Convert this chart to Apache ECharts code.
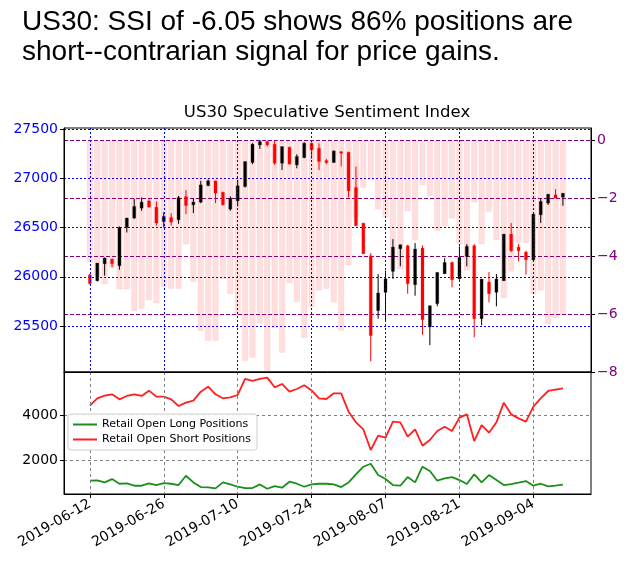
<!DOCTYPE html>
<html lang="en">
<head>
    <meta charset="UTF-8">
    <title>US30 SSI</title>
    <script src="https://cdn.jsdelivr.net/npm/echarts/dist/echarts.min.js"></script>
    <style>
        html, body { margin: 0; padding: 0; background: #fff; }
        #main { width: 629px; height: 566px; }
    </style>
</head>
<body>
    <div id="main"></div>
    <script type="text/javascript">
        // trading day index 0 = 2019-06-12
        const tickIdx = [0, 10, 20, 30, 40, 50, 60];
        const tickLabels = ['2019-06-12', '2019-06-26', '2019-07-10', '2019-07-24', '2019-08-07', '2019-08-21', '2019-09-04'];
        const priceTicks = [25500, 26000, 26500, 27000, 27500];
        const ssiTicks = [0, -2, -4, -6, -8];
        const posTicks = [2000, 4000];

        const open = [26021, 25960, 26133, 26180, 26113, 26502, 26597, 26698, 26772, 26708,
            26563, 26603, 26580, 26816, 26732, 26759, 26928, 26976, 26860, 26688,
            26772, 26918, 27162, 27341, 27375, 27348, 27155, 27317, 27138, 27212,
            27358, 27307, 27182, 27162, 27273, 27266, 26908, 26546, 26214, 25656,
            25842, 26055, 26285, 26316, 25920, 26292, 25490, 25727, 26031, 26146,
            25980, 26207, 26316, 25574, 25947, 25842, 25960, 26434, 26302, 26251,
            26173, 26630, 26749, 26833, 26810];
        const close = [25930, 26140, 26190, 26133, 26502, 26597, 26715, 26759, 26708, 26546,
            26613, 26556, 26806, 26725, 26759, 26935, 26976, 26851, 26732, 26800,
            26925, 27172, 27348, 27375, 27341, 27155, 27324, 27145, 27223, 27358,
            27290, 27172, 27162, 27280, 27256, 26874, 26519, 26234, 25402, 25835,
            25980, 26302, 26326, 25930, 26282, 25564, 25706, 26045, 26146, 25970,
            26197, 26309, 25574, 25977, 25828, 25977, 26434, 26265, 26265, 26173,
            26637, 26766, 26840, 26800, 26850];
        const low = [25920, 25953, 26011, 26096, 26072, 26451, 26590, 26671, 26705, 26519,
            26502, 26522, 26539, 26637, 26647, 26749, 26920, 26749, 26725, 26671,
            26715, 26908, 27145, 27300, 27324, 27138, 27087, 27145, 27104, 27206,
            27199, 27087, 27145, 27160, 27121, 26806, 26519, 26234, 25141, 25574,
            25547, 25980, 26106, 25828, 25808, 25412, 25304, 25700, 26031, 25893,
            25970, 26106, 25385, 25507, 25740, 25700, 25960, 26251, 26157, 26021,
            26163, 26546, 26732, 26800, 26722];
        const high = [26031, 26140, 26197, 26185, 26512, 26600, 26793, 26806, 26789, 26766,
            26657, 26647, 26823, 26881, 26800, 26976, 26990, 26976, 26865, 26817,
            26986, 27172, 27358, 27392, 27385, 27382, 27324, 27324, 27246, 27368,
            27368, 27358, 27199, 27285, 27273, 27273, 27121, 26546, 26241, 26028,
            26062, 26383, 26326, 26326, 26343, 26319, 25706, 26045, 26190, 26157,
            26309, 26333, 26333, 25977, 26048, 26028, 26434, 26546, 26333, 26265,
            26637, 26793, 26840, 26891, 26850];

        const ssi = [-4.23, -4.7, -4.98, -4.4, -5.15, -5.15, -5.9, -5.82, -5.53, -5.63,
            -5.07, -5.13, -5.13, -3.6, -4.89, -6.59, -6.93, -6.93, -4.8, -5.31,
            -6.06, -7.62, -7.52, -6.34, -8.0, -6.5, -7.34, -4.93, -5.59, -6.83,
            -5.77, -5.19, -5.13, -5.61, -6.58, -4.32, -2.66, -1.64, -1.37, -2.39,
            -2.66, -4.46, -4.46, -2.45, -3.46, -1.55, -1.93, -3.13, -2.97, -2.7,
            -3.6, -4.5, -2.15, -3.6, -2.47, -3.46, -5.46, -4.54, -3.54, -3.54,
            -5.32, -5.19, -6.36, -6.15, -6.03];

        const longPos = [1124, 1138, 1051, 1197, 992, 1007, 905, 905, 1007, 934,
            1022, 992, 934, 1343, 1051, 846, 832, 788, 1051, 963,
            861, 803, 803, 963, 773, 890, 817, 1080, 992, 861,
            963, 992, 992, 963, 846, 1051, 1401, 1737, 1868, 1372,
            1197, 934, 905, 1284, 1051, 1737, 1547, 1124, 1226, 1284,
            1153, 978, 1401, 1051, 1372, 1153, 934, 978, 1036, 1109,
            905, 992, 876, 905, 949];
        const shortPos = [4409, 4730, 4847, 4905, 4686, 4832, 4905, 4832, 5066, 4803,
            4803, 4686, 4394, 4540, 4628, 5022, 5241, 4905, 4730, 4774,
            4876, 5577, 5489, 5577, 5635, 5212, 5358, 5022, 5139, 5300,
            5073, 4730, 4701, 4949, 4949, 4146, 3679, 3372, 2467, 3095,
            3007, 3708, 3679, 3051, 3372, 2657, 2905, 3299, 3489, 3299,
            3883, 4029, 2861, 3562, 3226, 3679, 4540, 4029, 3854, 3708,
            4365, 4730, 5051, 5110, 5168];

        const FONT = 'DejaVu Sans';
        const chart = echarts.init(document.getElementById('main'));

        function renderCandle(params, api) {
            const x = api.value(0);
            const o = api.value(1), c = api.value(2), l = api.value(3), h = api.value(4);
            const pO = api.coord([x, o]), pC = api.coord([x, c]);
            const pL = api.coord([x, l]), pH = api.coord([x, h]);
            const up = c >= o;
            const color = up ? '#000000' : '#ff0000';
            const w = 3;
            return {
                type: 'group',
                children: [
                    {type: 'line', shape: {x1: pH[0], y1: pH[1], x2: pL[0], y2: pL[1]},
                        style: {stroke: color, lineWidth: 1}},
                    {type: 'rect', shape: {x: pO[0] - w / 2, y: Math.min(pO[1], pC[1]), width: w,
                        height: Math.max(Math.abs(pO[1] - pC[1]), 1)},
                        style: {fill: color, stroke: up ? 'rgba(0,0,0,0.25)' : 'rgba(255,0,0,0.25)', lineWidth: 1}}
                ]
            };
        }

        const minus = v => (v < 0 ? '\u2212' + (-v) : String(v));

        const option = {
            animation: false,
            title: [{
                text: 'US30: SSI of -6.05 shows 86% positions are\nshort--contrarian signal for price gains.',
                left: 22,
                top: 7,
                padding: 0,
                textStyle: {fontFamily: 'Liberation Sans', fontSize: 28, fontWeight: 'normal', color: '#000', lineHeight: 30.5}
            }, {
                text: 'US30 Speculative Sentiment Index',
                left: 327,
                textAlign: 'center',
                top: 104,
                padding: 0,
                textStyle: {fontFamily: FONT, fontSize: 16.5, fontWeight: 'normal', color: '#000'}
            }],
            legend: {
                data: ['Retail Open Long Positions', 'Retail Open Short Positions'],
                orient: 'vertical',
                left: 68,
                top: 414,
                padding: [4, 6, 4, 5],
                itemGap: 2,
                itemWidth: 24,
                itemHeight: 2,
                icon: 'rect',
                z: 10,
                backgroundColor: 'rgba(255,255,255,0.92)',
                borderColor: '#cccccc',
                borderWidth: 1,
                borderRadius: 3,
                textStyle: {fontFamily: FONT, fontSize: 11, color: '#000', lineHeight: 13}
            },
            grid: [
                {left: 64, top: 128, right: 38, height: 244, show: true, borderColor: '#000', borderWidth: 1},
                {left: 64, top: 372, right: 38, height: 122, show: true, borderColor: '#000', borderWidth: 1}
            ],
            xAxis: [{
                gridIndex: 0, type: 'value', min: -3.5, max: 67.8, z: 5,
                axisLine: {show: true, onZero: false, lineStyle: {color: '#000'}},
                axisTick: {show: false, customValues: tickIdx},
                axisLabel: {show: false, customValues: tickIdx},
                splitLine: {show: true, lineStyle: {color: '#0000ff', type: [2, 2], width: 1}}
            }, {
                gridIndex: 1, type: 'value', min: -3.5, max: 67.8, z: 5,
                axisLine: {show: true, onZero: false, lineStyle: {color: '#000'}},
                axisTick: {show: true, length: 4, customValues: tickIdx, lineStyle: {color: '#000'}},
                axisLabel: {
                    customValues: tickIdx, rotate: 30, margin: 9,
                    fontFamily: FONT, fontSize: 14, color: '#000',
                    formatter: v => tickLabels[tickIdx.indexOf(v)] || ''
                },
                splitLine: {show: true, lineStyle: {color: '#808080', type: [3, 3], width: 1}}
            }],
            yAxis: [{
                gridIndex: 0, type: 'value', position: 'left', min: 25032, max: 27513,
                axisLine: {show: true, onZero: false, lineStyle: {color: '#000'}},
                axisTick: {show: true, length: 4, customValues: priceTicks, lineStyle: {color: '#000'}},
                axisLabel: {customValues: priceTicks, margin: 6,
                    fontFamily: FONT, fontSize: 14, color: '#0000ff', formatter: v => String(v)},
                splitLine: {show: true, lineStyle: {color: '#0000ff', type: [2, 2], width: 1}}
            }, {
                gridIndex: 0, type: 'value', position: 'right', min: -8, max: 0.43,
                axisLine: {show: true, onZero: false, lineStyle: {color: '#000'}},
                axisTick: {show: true, length: 4, customValues: ssiTicks, lineStyle: {color: '#000'}},
                axisLabel: {customValues: ssiTicks, margin: 6,
                    fontFamily: FONT, fontSize: 14, color: '#800080', formatter: minus},
                splitLine: {show: true, lineStyle: {color: '#800080', type: [4, 2], width: 1}}
            }, {
                gridIndex: 1, type: 'value', position: 'left', min: 543, max: 5882,
                axisLine: {show: true, onZero: false, lineStyle: {color: '#000'}},
                axisTick: {show: true, length: 4, customValues: posTicks, lineStyle: {color: '#000'}},
                axisLabel: {customValues: posTicks, margin: 6,
                    fontFamily: FONT, fontSize: 14, color: '#000', formatter: v => String(v)},
                splitLine: {show: true, lineStyle: {color: '#808080', type: [3, 3], width: 1}}
            }],
            series: [{
                name: 'SSI',
                type: 'bar',
                xAxisIndex: 0,
                yAxisIndex: 1,
                barWidth: 6.5,
                z: 1,
                itemStyle: {color: 'rgba(255,0,0,0.13)', borderColor: 'rgba(255,0,0,0.06)', borderWidth: 1},
                data: ssi.map((v, i) => [i, v])
            }, {
                name: 'US30',
                type: 'custom',
                xAxisIndex: 0,
                yAxisIndex: 0,
                z: 3,
                renderItem: renderCandle,
                encode: {x: 0, y: [1, 2, 3, 4]},
                data: open.map((o, i) => [i, o, close[i], low[i], high[i]])
            }, {
                name: 'Retail Open Long Positions',
                type: 'line',
                xAxisIndex: 1,
                yAxisIndex: 2,
                showSymbol: false,
                color: '#1a8f1a',
                lineStyle: {width: 1.8},
                data: longPos.map((v, i) => [i, v])
            }, {
                name: 'Retail Open Short Positions',
                type: 'line',
                xAxisIndex: 1,
                yAxisIndex: 2,
                showSymbol: false,
                color: '#ff1f1f',
                lineStyle: {width: 1.8},
                data: shortPos.map((v, i) => [i, v])
            }]
        };
        chart.setOption(option);
    </script>
</body>
</html>
